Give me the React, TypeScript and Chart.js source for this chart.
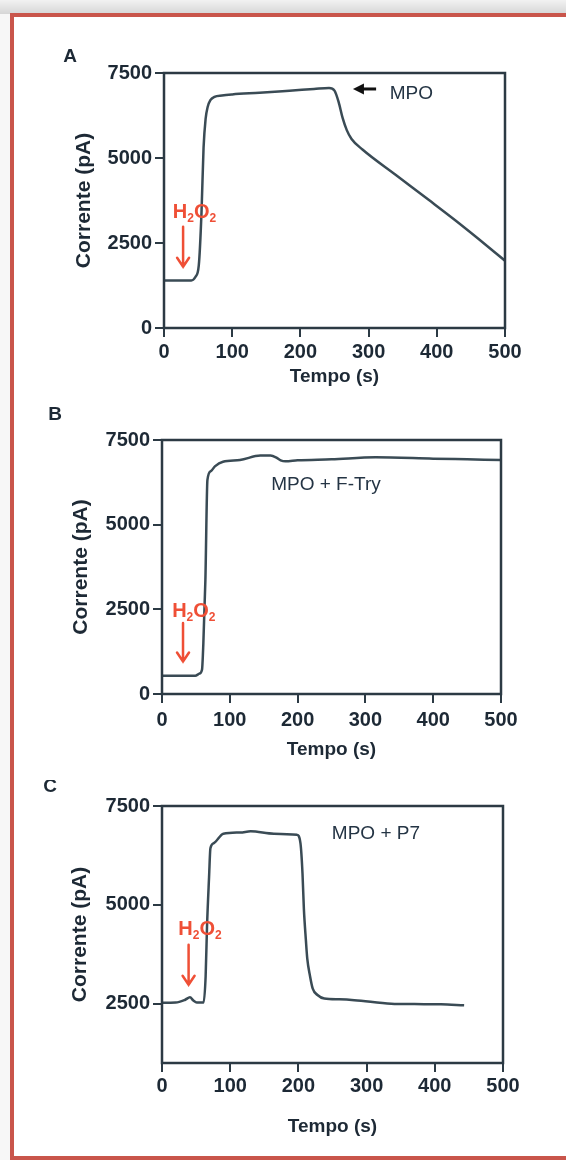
import React, { useEffect, useRef } from "react";
import { Chart, registerables } from "chart.js";

Chart.register(...registerables);

// ---------- DATA ----------
const timeA = [0, 40, 46, 51, 55, 58, 61, 64, 68, 74, 85, 100, 140, 184, 220, 242, 250, 256, 262, 268, 275, 291, 340, 388, 427, 460, 500];
const currentA = [1400, 1400, 1500, 1840, 3400, 5300, 6150, 6500, 6700, 6800, 6840, 6870, 6920, 6980, 7030, 7060, 6980, 6650, 6170, 5820, 5560, 5250, 4500, 3770, 3170, 2640, 1980];

const timeB = [0, 49, 55, 59, 61, 64, 67, 72, 78, 90, 115, 145, 160, 168, 175, 182, 200, 250, 315, 400, 450, 500];
const currentB = [540, 540, 600, 715, 1500, 3370, 6320, 6580, 6720, 6860, 6910, 7040, 7040, 6990, 6900, 6870, 6900, 6930, 6990, 6950, 6930, 6910];

const timeC = [0, 20, 34, 41, 46, 51, 61, 64, 66, 69, 71, 76, 90, 115, 130, 164, 198, 203, 206, 208, 211, 213, 217, 221, 228, 238, 260, 282, 336, 370, 409, 443];
const currentC = [2525, 2530, 2600, 2660, 2580, 2530, 2530, 3200, 4450, 5700, 6430, 6560, 6800, 6830, 6860, 6800, 6770, 6560, 5800, 4910, 4100, 3640, 3200, 2880, 2720, 2630, 2610, 2590, 2500, 2490, 2485, 2460];

const xTickValues = [0, 100, 200, 300, 400, 500];
const yTickValuesAB = [0, 2500, 5000, 7500];
const yTickValuesC = [2500, 5000, 7500];

const panelLetters = ["A", "B", "C"];
const notes = ["MPO", "MPO + F-Try", "MPO + P7"];
const xTitle = "Tempo (s)";
const yTitle = "Corrente (pA)";

// ---------- STYLE ----------
const FONT = "'Liberation Sans', Arial, sans-serif";
const TEXT = "#1d2935";
const AXIS = "#2c3a44";
const LINE = "#3a4b55";
const RED = "#ef4f36";
const FRAME_RED = "#c9554b";
const W = 566;

type Panel = {
  letter: string;
  note: string;
  time: number[];
  current: number[];
  yMin: number;
  yTicks: number[];
  canvasTop: number;
  canvasHeight: number;
  area: { l: number; t: number; r: number; b: number };
  yTitleX: number;
  xTitleY: number;
  xTickPad: number;
  letterPos: { x: number; y: number };
  notePos: { x: number; y: number };
  pointer?: { x1: number; x2: number; y: number };
  h2o2: { x: number; y: number };
  h2o2Arrow: { x: number; y1: number; y2: number };
};

const panels: Panel[] = [
  {
    letter: panelLetters[0], note: notes[0], time: timeA, current: currentA,
    yMin: 0, yTicks: yTickValuesAB, canvasTop: 0, canvasHeight: 390,
    area: { l: 164, t: 73, r: 505, b: 328 }, yTitleX: 84, xTitleY: 377, xTickPad: 3,
    letterPos: { x: 70, y: 57 },
    notePos: { x: 331, y: 6900 },
    pointer: { x1: 311, x2: 277, y: 7030 },
    h2o2: { x: 13, y: 3440 },
    h2o2Arrow: { x: 28, y1: 2980, y2: 1800 },
  },
  {
    letter: panelLetters[1], note: notes[1], time: timeB, current: currentB,
    yMin: 0, yTicks: yTickValuesAB, canvasTop: 390, canvasHeight: 390,
    area: { l: 162, t: 440, r: 501, b: 694 }, yTitleX: 81, xTitleY: 750, xTickPad: 5,
    letterPos: { x: 55, y: 415 },
    notePos: { x: 161, y: 6170 },
    h2o2: { x: 15, y: 2490 },
    h2o2Arrow: { x: 31, y1: 2100, y2: 960 },
  },
  {
    letter: panelLetters[2], note: notes[2], time: timeC, current: currentC,
    yMin: 1000, yTicks: yTickValuesC, canvasTop: 780, canvasHeight: 380,
    area: { l: 162, t: 806, r: 503, b: 1063 }, yTitleX: 80, xTitleY: 1127, xTickPad: 2,
    letterPos: { x: 50, y: 787 },
    notePos: { x: 249, y: 6790 },
    h2o2: { x: 24, y: 4420 },
    h2o2Arrow: { x: 39, y1: 3990, y2: 2980 },
  },
];

const decorPlugin = {
  id: "decor",
  afterDraw(chart: any, _args: any, opts: any) {
    const p: Panel = opts.panel;
    if (!p) return;
    const ctx = chart.ctx as CanvasRenderingContext2D;
    const { left, top, right, bottom } = chart.chartArea;
    const xs = chart.scales.x;
    const ys = chart.scales.y;
    const px = (v: number) => xs.getPixelForValue(v);
    const py = (v: number) => ys.getPixelForValue(v);
    ctx.save();
    // plot frame
    ctx.strokeStyle = AXIS;
    ctx.lineWidth = 2.5;
    ctx.strokeRect(left, top, right - left, bottom - top);

    // panel letter
    ctx.fillStyle = TEXT;
    ctx.font = `bold 19px ${FONT}`;
    ctx.textAlign = "center";
    ctx.textBaseline = "middle";
    ctx.fillText(p.letter, p.letterPos.x, p.letterPos.y - p.canvasTop);

    // note text
    ctx.font = `19px ${FONT}`;
    ctx.textAlign = "left";
    ctx.fillStyle = "#243444";
    ctx.fillText(p.note, px(p.notePos.x), py(p.notePos.y));

    // black pointer arrow
    if (p.pointer) {
      const x1 = px(p.pointer.x1);
      const x2 = px(p.pointer.x2);
      const y = py(p.pointer.y);
      ctx.strokeStyle = "#111";
      ctx.fillStyle = "#111";
      ctx.lineWidth = 3;
      ctx.beginPath();
      ctx.moveTo(x1, y);
      ctx.lineTo(x2 + 8, y);
      ctx.stroke();
      ctx.beginPath();
      ctx.moveTo(x2, y);
      ctx.lineTo(x2 + 11, y - 5.5);
      ctx.lineTo(x2 + 11, y + 5.5);
      ctx.closePath();
      ctx.fill();
    }

    // H2O2 label
    ctx.fillStyle = RED;
    ctx.textBaseline = "alphabetic";
    let hx = px(p.h2o2.x);
    const hy = py(p.h2o2.y) + 7;
    const big = `bold 20px ${FONT}`;
    const small = `bold 12px ${FONT}`;
    const parts: [string, boolean][] = [["H", false], ["2", true], ["O", false], ["2", true]];
    for (const [s, sub] of parts) {
      ctx.font = sub ? small : big;
      ctx.fillText(s, hx, sub ? hy + 4 : hy);
      hx += ctx.measureText(s).width;
    }

    // red arrow
    const ax = px(p.h2o2Arrow.x);
    const ay1 = py(p.h2o2Arrow.y1);
    const ay2 = py(p.h2o2Arrow.y2);
    ctx.strokeStyle = RED;
    ctx.lineWidth = 2.5;
    ctx.lineCap = "round";
    ctx.beginPath();
    ctx.moveTo(ax, ay1);
    ctx.lineTo(ax, ay2);
    ctx.moveTo(ax - 6, ay2 - 9);
    ctx.lineTo(ax, ay2);
    ctx.lineTo(ax + 6, ay2 - 9);
    ctx.stroke();
    ctx.restore();
  },
};

function PanelChart({ panel }: { panel: Panel }) {
  const ref = useRef<HTMLCanvasElement | null>(null);
  useEffect(() => {
    if (!ref.current) return;
    const p = panel;
    const yAxisWidth = p.area.l;
    const xAxisHeight = p.canvasTop + p.canvasHeight - p.area.b;
    const yTitleLH = 21 * 1.2;
    const xTitleLH = 19 * 1.2;
    const chart = new Chart(ref.current, {
      type: "line",
      data: {
        datasets: [
          {
            data: p.time.map((t, i) => ({ x: t, y: p.current[i] })),
            borderColor: LINE,
            borderWidth: 2.5,
            pointRadius: 0,
            cubicInterpolationMode: "monotone",
            fill: false,
          },
        ],
      },
      options: {
        animation: false,
        responsive: false,
        events: [],
        layout: {
          padding: { left: 0, top: p.area.t - p.canvasTop, right: W - p.area.r, bottom: 0 },
        },
        plugins: {
          legend: { display: false },
          tooltip: { enabled: false },
          decor: { panel: p },
        } as any,
        scales: {
          x: {
            type: "linear",
            min: 0,
            max: 500,
            afterBuildTicks: (s: any) => {
              s.ticks = xTickValues.map((v) => ({ value: v }));
            },
            afterFit: (s: any) => {
              s.height = xAxisHeight;
            },
            grid: { drawOnChartArea: false, drawTicks: true, tickLength: 9, color: AXIS, lineWidth: 2 },
            border: { display: false },
            ticks: {
              autoSkip: false,
              maxRotation: 0,
              padding: p.xTickPad,
              color: TEXT,
              font: { family: FONT, size: 20, weight: "bold" },
              callback: (v: any) => String(v),
            },
            title: {
              display: true,
              text: xTitle,
              color: TEXT,
              font: { family: FONT, size: 19, weight: "bold" },
              padding: { top: 0, bottom: p.canvasTop + p.canvasHeight - p.xTitleY - xTitleLH / 2 },
            },
          },
          y: {
            type: "linear",
            min: p.yMin,
            max: 7500,
            afterBuildTicks: (s: any) => {
              s.ticks = p.yTicks.map((v) => ({ value: v }));
            },
            afterFit: (s: any) => {
              s.width = yAxisWidth;
            },
            grid: { drawOnChartArea: false, drawTicks: true, tickLength: 9, color: AXIS, lineWidth: 2 },
            border: { display: false },
            ticks: {
              autoSkip: false,
              padding: 3,
              color: TEXT,
              font: { family: FONT, size: 20, weight: "bold" },
              callback: (v: any) => String(v),
            },
            title: {
              display: true,
              text: yTitle,
              color: TEXT,
              font: { family: FONT, size: 21, weight: "bold" },
              padding: { top: p.yTitleX - yTitleLH / 2, bottom: 0 },
            },
          },
        },
      },
      plugins: [decorPlugin],
    } as any);
    return () => chart.destroy();
  }, [panel]);
  return (
    <canvas
      ref={ref}
      width={W}
      height={panel.canvasHeight}
      style={{ position: "absolute", left: 0, top: panel.canvasTop, width: W, height: panel.canvasHeight }}
    />
  );
}

export default function App() {
  return (
    <div
      style={{
        position: "absolute",
        left: 0,
        top: 0,
        width: W,
        height: 1160,
        overflow: "hidden",
        background: "#f7f7f7",
        fontFamily: FONT,
      }}
    >
      <div
        style={{
          position: "absolute",
          left: 0,
          top: 0,
          width: W,
          height: 14,
          background: "linear-gradient(to bottom, #f2f2f2, #d6d6d6)",
        }}
      />
      <div
        style={{
          position: "absolute",
          left: 10,
          top: 13,
          width: 600,
          height: 1139,
          border: `4px solid ${FRAME_RED}`,
          background: "#ffffff",
        }}
      />
      {panels.map((p, i) => (
        <PanelChart key={i} panel={p} />
      ))}
    </div>
  );
}
